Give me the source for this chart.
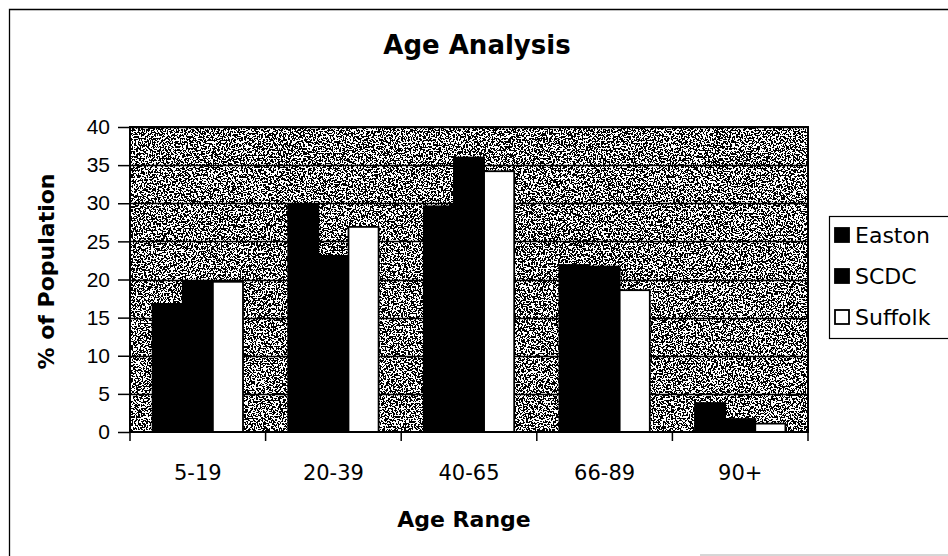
<!DOCTYPE html>
<html>
<head>
<meta charset="utf-8">
<script src="https://cdn.jsdelivr.net/npm/d3@7"></script>
<style>
  body { margin: 0; background: #fff; }
  svg { display: block; font-family: 'DejaVu Sans', sans-serif; }
  .tick text { font-size: 21px; fill: #000; }
</style>
</head>
<body>
<div id="chart"></div>
<script>
// Data
const categories = ['5-19', '20-39', '40-65', '66-89', '90+'];
const seriesNames = ['Easton', 'SCDC', 'Suffolk'];
const easton = [16.8, 29.8, 29.6, 21.9, 3.8];
const scdc = [19.8, 23.1, 36.0, 21.7, 1.7];
const suffolk = [19.7, 26.9, 34.2, 18.6, 1.1];
const yTicks = [0, 5, 10, 15, 20, 25, 30, 35, 40];
const seriesColors = ['#000', '#000', '#fff'];

const rows = categories.map((c, i) => ({
  category: c,
  values: [easton[i], scdc[i], suffolk[i]],
}));

// Dimensions
const dimensions = {
  width: 948,
  height: 556,
  left: 130,
  top: 127,
  right: 808,
  bottom: 432,
};

const svg = d3
  .select('#chart')
  .append('svg')
  .attr('width', dimensions.width)
  .attr('height', dimensions.height);

// stippled grey fill like the scanned original
const defs = svg.append('defs');
const filter = defs
  .append('filter')
  .attr('id', 'stipple')
  .attr('x', 0)
  .attr('y', 0)
  .attr('width', 1)
  .attr('height', 1);
filter
  .append('feTurbulence')
  .attr('type', 'fractalNoise')
  .attr('baseFrequency', 0.6)
  .attr('numOctaves', 2)
  .attr('seed', 4);
filter.append('feColorMatrix').attr('type', 'saturate').attr('values', 0);
const ct = filter.append('feComponentTransfer');
['feFuncR', 'feFuncG', 'feFuncB'].forEach((f) =>
  ct.append(f).attr('type', 'discrete').attr('tableValues', '0 1')
);
ct.append('feFuncA').attr('type', 'linear').attr('slope', 0).attr('intercept', 1);

// outer chart frame (top and left visible, right runs off the page)
svg
  .append('path')
  .attr('d', 'M9.5,556 V9.5 H948')
  .attr('fill', 'none')
  .attr('stroke', '#000')
  .attr('stroke-width', 1.3);
svg
  .append('line')
  .attr('x1', 700)
  .attr('x2', 948)
  .attr('y1', 555)
  .attr('y2', 555)
  .attr('stroke', '#c8c8c8')
  .attr('stroke-width', 1.5);

// Scales
const xScale = d3
  .scaleBand()
  .domain(categories)
  .range([dimensions.left, dimensions.right])
  .paddingInner(1 / 3)
  .paddingOuter(1 / 6);

const xOuter = d3
  .scaleBand()
  .domain(categories)
  .range([dimensions.left, dimensions.right]);

const xSeries = d3
  .scaleBand()
  .domain(seriesNames)
  .range([0, xScale.bandwidth()]);

const yScale = d3
  .scaleLinear()
  .domain([0, 40])
  .range([dimensions.bottom, dimensions.top]);

// plot background
svg
  .append('rect')
  .attr('x', dimensions.left)
  .attr('y', dimensions.top)
  .attr('width', dimensions.right - dimensions.left)
  .attr('height', dimensions.bottom - dimensions.top)
  .attr('filter', 'url(#stipple)');

// gridlines
svg
  .append('g')
  .selectAll('line')
  .data(yTicks.slice(1))
  .join('line')
  .attr('x1', dimensions.left)
  .attr('x2', dimensions.right)
  .attr('y1', (d) => Math.round(yScale(d)) + 0.5)
  .attr('y2', (d) => Math.round(yScale(d)) + 0.5)
  .attr('stroke', '#000')
  .attr('stroke-width', 1.5);

// Draw Bars
const groups = svg
  .append('g')
  .selectAll('g')
  .data(rows)
  .join('g')
  .attr('transform', (d) => `translate(${xScale(d.category)},0)`);

groups
  .selectAll('rect')
  .data((d) => d.values.map((v, i) => ({ key: seriesNames[i], value: v, i })))
  .join('rect')
  .attr('x', (d) => xSeries(d.key))
  .attr('y', (d) => yScale(d.value))
  .attr('width', xSeries.bandwidth())
  .attr('height', (d) => yScale(0) - yScale(d.value))
  .attr('fill', (d) => seriesColors[d.i])
  .attr('stroke', '#000')
  .attr('stroke-width', 1.8);

// plot border
svg
  .append('rect')
  .attr('x', dimensions.left)
  .attr('y', dimensions.top)
  .attr('width', dimensions.right - dimensions.left)
  .attr('height', dimensions.bottom - dimensions.top)
  .attr('fill', 'none')
  .attr('stroke', '#000')
  .attr('stroke-width', 2);

// Draw Axis
const yAxis = d3
  .axisLeft(yScale)
  .tickValues(yTicks)
  .tickSize(12)
  .tickPadding(8);
const yAxisGroup = svg
  .append('g')
  .attr('transform', `translate(${dimensions.left},0)`)
  .call(yAxis);
yAxisGroup.select('.domain').remove();
yAxisGroup.selectAll('line').attr('stroke', '#000').attr('stroke-width', 1.5);

// x axis: ticks on category boundaries, labels centred
const xAxisGroup = svg.append('g');
xAxisGroup
  .selectAll('line')
  .data(categories.concat(['end']))
  .join('line')
  .attr('x1', (d, i) => (i < categories.length ? xOuter(d) : dimensions.right))
  .attr('x2', (d, i) => (i < categories.length ? xOuter(d) : dimensions.right))
  .attr('y1', dimensions.bottom)
  .attr('y2', dimensions.bottom + 9)
  .attr('stroke', '#000')
  .attr('stroke-width', 1.5);
xAxisGroup
  .selectAll('text')
  .data(categories)
  .join('text')
  .attr('x', (d) => xOuter(d) + xOuter.bandwidth() / 2)
  .attr('y', 480)
  .attr('text-anchor', 'middle')
  .attr('font-size', 21)
  .text((d) => d);

// Titles
svg
  .append('text')
  .attr('x', 477)
  .attr('y', 54)
  .attr('text-anchor', 'middle')
  .attr('font-size', 26)
  .attr('font-weight', 'bold')
  .text('Age Analysis');

svg
  .append('text')
  .attr('x', (dimensions.left + dimensions.right) / 2 - 5)
  .attr('y', 527)
  .attr('text-anchor', 'middle')
  .attr('font-size', 22)
  .attr('font-weight', 'bold')
  .text('Age Range');

svg
  .append('text')
  .attr('transform', `translate(54,${(dimensions.top + dimensions.bottom) / 2 - 8}) rotate(-90)`)
  .attr('text-anchor', 'middle')
  .attr('font-size', 22)
  .attr('font-weight', 'bold')
  .text('% of Population');

// Legend
const legend = svg.append('g').attr('transform', 'translate(829,216)');
legend
  .append('rect')
  .attr('x', 0.5)
  .attr('y', 0.5)
  .attr('width', 140)
  .attr('height', 122)
  .attr('fill', '#fff')
  .attr('stroke', '#000')
  .attr('stroke-width', 1.2);

const legendItems = legend
  .selectAll('g')
  .data(seriesNames)
  .join('g')
  .attr('transform', (d, i) => `translate(6,${19 + i * 41})`);
legendItems
  .append('rect')
  .attr('x', 0)
  .attr('y', -7)
  .attr('width', 14)
  .attr('height', 14)
  .attr('fill', (d, i) => seriesColors[i])
  .attr('stroke', '#000')
  .attr('stroke-width', 1.8);
legendItems
  .append('text')
  .attr('x', 20)
  .attr('y', 8)
  .attr('font-size', 22)
  .text((d) => d);
</script>
</body>
</html>
